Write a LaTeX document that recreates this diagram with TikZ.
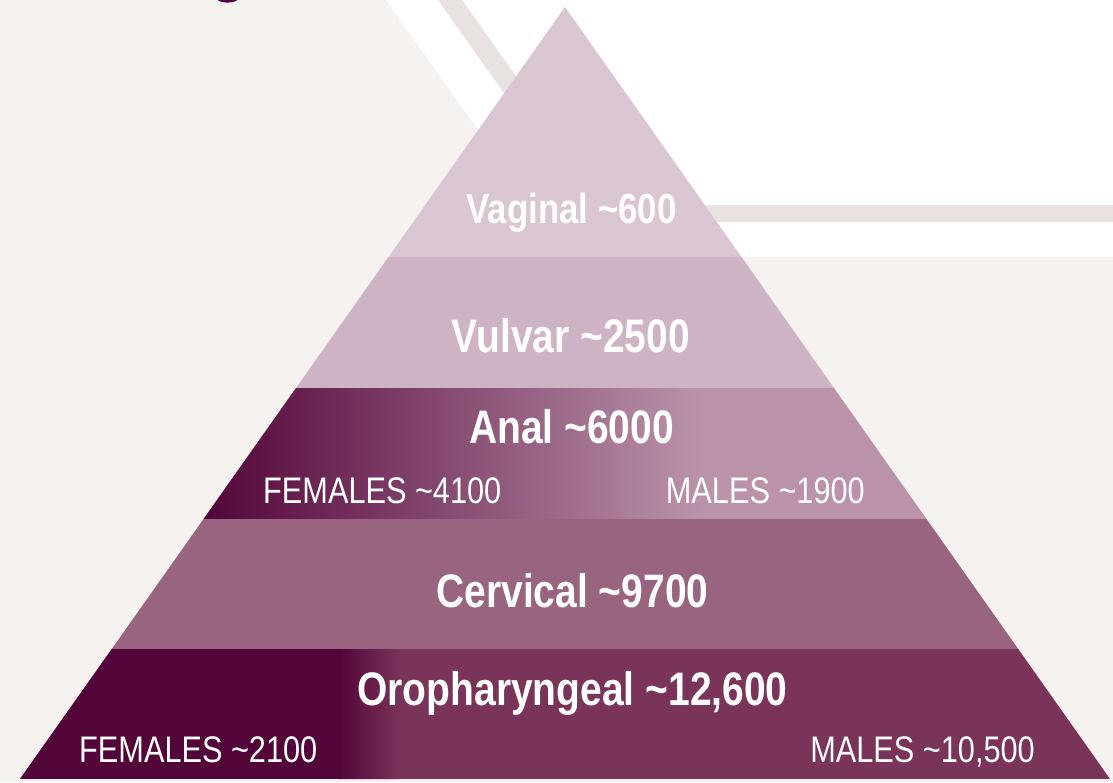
\documentclass[tikz,border=0pt]{standalone}
\usepackage{fontspec}
\newfontfamily\narrowfont[FakeStretch=0.83]{Liberation Sans}
\definecolor{bgbeige}{HTML}{F5F2EF}
\definecolor{stripegray}{HTML}{E8E3E0}
\definecolor{vagc}{HTML}{DAC6D2}
\definecolor{vulc}{HTML}{CDB3C4}
\definecolor{analc}{HTML}{BA93AA}
\definecolor{cervc}{HTML}{98647F}
\definecolor{oroc}{HTML}{7A3359}
\definecolor{darkc}{HTML}{530539}
\begin{document}
\begin{tikzpicture}[x=1pt,y=-1pt,
  biglabel/.style={text=white, font=\narrowfont\bfseries\fontsize{47}{50}\selectfont, anchor=base, inner sep=0pt},
  toplabel/.style={biglabel, font=\narrowfont\bfseries\fontsize{42}{45}\selectfont},
  smalllabel/.style={text=white, font=\narrowfont\fontsize{37}{40}\selectfont, inner sep=0pt}]
\useasboundingbox (0,0) rectangle (1113,782);
\clip (0,0) rectangle (1113,782);
% background
\fill[bgbeige] (0,0) rectangle (1113,782);
\fill[white] (386,0) -- (1113,0) -- (1113,257) -- (568,257) -- cycle;
\fill[stripegray] (438,0) -- (462,0) -- (568.5,150) -- (544.5,150) -- cycle;
\fill[stripegray] (560,205) rectangle (1113,222);
\fill[darkc] (227.5,-1) ellipse [x radius=10, y radius=3.6];
% pyramid
\begin{scope}
  \clip (565,7) -- (1110,779) -- (20,779) -- cycle;
  \fill[vagc] (0,0) rectangle (1113,257);
  \fill[vulc] (0,257) rectangle (1113,388);
  \fill[analc] (0,388) rectangle (1113,519);
  \fill[darkc] (0,388) rectangle (205,519);
  \shade[left color=darkc, right color=analc] (205,388) rectangle (700,519);
  \fill[cervc] (0,519) rectangle (1113,649);
  \fill[oroc] (0,649) rectangle (1113,779);
  \fill[darkc] (0,649) rectangle (338,779);
  \shade[left color=darkc, right color=oroc] (338,649) rectangle (400,779);
\end{scope}
% labels
\node[toplabel] (vaginal) at (571.5,223) {Vaginal \textasciitilde600};
\node[biglabel] (vulvar) at (571,352) {Vulvar \textasciitilde2500};
\node[biglabel] (anal) at (571.5,443) {Anal \textasciitilde6000};
\node[smalllabel, anchor=base west] (anfem) at (263,503) {FEMALES \textasciitilde4100};
\node[smalllabel, anchor=base east] (anmale) at (865,503) {MALES \textasciitilde1900};
\node[biglabel] (cervical) at (572.5,607) {Cervical \textasciitilde9700};
\node[biglabel] (oro) at (572.5,705) {Oropharyngeal \textasciitilde12,600};
\node[smalllabel, anchor=base west] (orofem) at (79,762) {FEMALES \textasciitilde2100};
\node[smalllabel, anchor=base east] (oromale) at (1035,762) {MALES \textasciitilde10,500};
\end{tikzpicture}
\end{document}
